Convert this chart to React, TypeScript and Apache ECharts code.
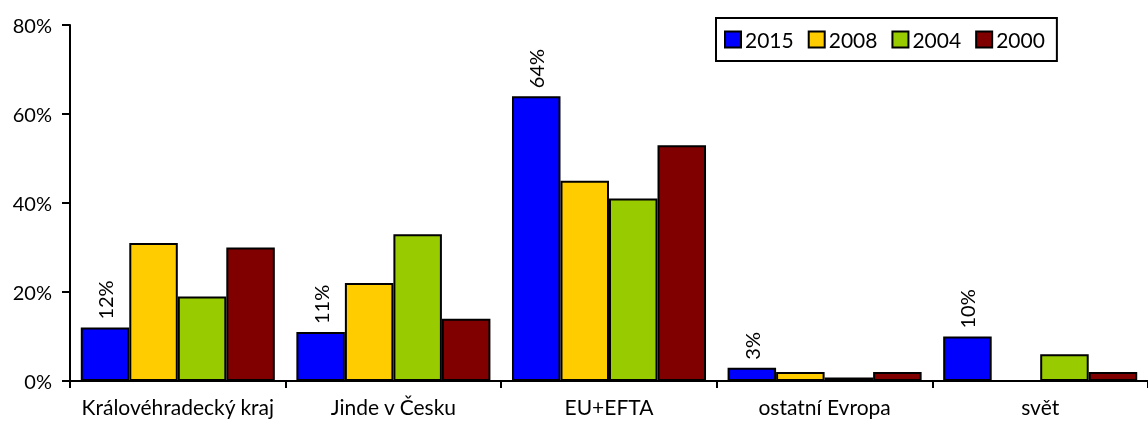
import React, { useEffect, useRef } from "react";
import * as echarts from "echarts";

const categories = ["Královéhradecký kraj", "Jinde v Česku", "EU+EFTA", "ostatní Evropa", "svět"];
const seriesNames = ["2015", "2008", "2004", "2000"];
const values2015 = [12, 11, 64, 3, 10];
const values2008 = [31, 22, 45, 2, 0];
const values2004 = [19, 33, 41, 0.8, 6];
const values2000 = [30, 14, 53, 2, 2];
const colors = ["#0000FF", "#FFCC00", "#99CC00", "#800000"];
const yTicks = [0, 20, 40, 60, 80];

const FONT = "Lato";

export default function App() {
  const ref = useRef<HTMLDivElement>(null);
  useEffect(() => {
    document.body.style.margin = "0";
    const chart = echarts.init(ref.current!, null, { renderer: "svg" });
    const data = [values2015, values2008, values2004, values2000];
    chart.setOption({
      animation: false,
      textStyle: { fontFamily: FONT, color: "#000" },
      grid: { left: 70, right: 0, top: 25, bottom: 47 },
      legend: {
        data: seriesNames,
        icon: "rect",
        left: 716,
        top: 18,
        orient: "horizontal",
        itemWidth: 16,
        itemHeight: 16,
        itemGap: 14,
        padding: [11, 12, 11, 8],
        borderColor: "#000",
        borderWidth: 2,
        backgroundColor: "#fff",
        itemStyle: { borderColor: "#000", borderWidth: 2 },
        textStyle: { fontFamily: FONT, fontSize: 21, color: "#000", padding: [0, 0, 0, -1] },
      },
      xAxis: {
        type: "category",
        data: categories,
        axisLine: { lineStyle: { color: "#000", width: 2 } },
        axisTick: { show: true, length: 7, lineStyle: { color: "#000", width: 2 }, alignWithLabel: false },
        axisLabel: { fontFamily: FONT, fontSize: 21, color: "#000", margin: 15, interval: 0 },
      },
      yAxis: {
        type: "value",
        min: yTicks[0],
        max: yTicks[yTicks.length - 1],
        interval: 20,
        axisLine: { show: true, lineStyle: { color: "#000", width: 2 } },
        axisTick: { show: true, length: 8, lineStyle: { color: "#000", width: 2 } },
        splitLine: { show: false },
        axisLabel: { fontFamily: FONT, fontSize: 20, color: "#000", margin: 18, formatter: "{value}%" },
      },
      series: seriesNames.map((name, i) => ({
        name,
        type: "bar",
        data: data[i],
        barGap: "0%",
        barCategoryGap: "10%",
        itemStyle: { color: colors[i], borderColor: "#000", borderWidth: 2 },
        label:
          i === 0
            ? {
                show: true,
                position: "top",
                rotate: 90,
                align: "left",
                verticalAlign: "middle",
                distance: 8,
                fontFamily: FONT,
                fontSize: 20,
                color: "#000",
                formatter: "{c}%",
              }
            : { show: false },
      })),
    });
    return () => chart.dispose();
  }, []);
  return <div ref={ref} style={{ position: "fixed", left: 0, top: 0, width: 1148, height: 428 }} />;
}
